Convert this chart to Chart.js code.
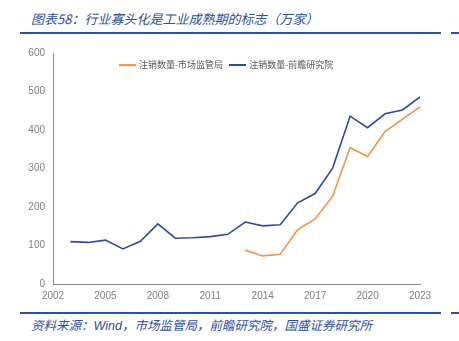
<!DOCTYPE html>
<html>
<head>
<meta charset="utf-8">
<script src="https://cdn.jsdelivr.net/npm/chart.js@4"></script>
<style>
  body { margin: 0; width: 459px; height: 341px; background: #fff; position: relative; overflow: hidden;
         font-family: "Noto Sans CJK SC", "Noto Sans", sans-serif; }
  .title { position: absolute; left: 31px; top: 9px; font-size: 13px; font-style: italic; color: #2d4f9e; white-space: nowrap; }
  .rule { position: absolute; height: 2px; background: #2a52a0; }
  .src { position: absolute; left: 31px; top: 315px; font-size: 12.5px; font-style: italic; color: #2d4f9e; white-space: nowrap; }
  .src .en { font-family: "Liberation Sans", Arial, sans-serif; }
  #wrap { position: absolute; left: 0; top: 40px; width: 459px; height: 262px; }
  .legend { position: absolute; top: 58px; left: 119px; font-size: 9px; color: #595959; white-space: nowrap; display: flex; align-items: center; }
  .legend .sw { display: inline-block; width: 17px; height: 2px; margin-right: 3px; }
  .legend .item { display: flex; align-items: center; margin-right: 6px; }
</style>
</head>
<body>
<div class="title">图表58：行业寡头化是工业成熟期的标志（万家）</div>
<div class="rule" style="left:20px; top:32px; width:421px;"></div>
<div class="rule" style="left:451px; top:32px; width:8px;"></div>
<div id="wrap"><canvas id="chart"></canvas></div>
<div class="legend">
  <span class="item"><span class="sw" style="background:#f4934a"></span>注销数量-市场监管局</span>
  <span class="item"><span class="sw" style="background:#2f4b9c"></span>注销数量-前瞻研究院</span>
</div>
<div class="rule" style="left:20px; top:312px; width:421px;"></div>
<div class="rule" style="left:451px; top:312px; width:8px;"></div>
<div class="src">资料来源：<span class="en">Wind</span>，市场监管局，前瞻研究院，国盛证券研究所</div>

<script>
// data
const years = [2003, 2004, 2005, 2006, 2007, 2008, 2009, 2010, 2011, 2012, 2013,
               2014, 2015, 2016, 2017, 2018, 2019, 2020, 2021, 2022, 2023];
const qianzhan = [110, 108, 114, 91, 111, 156, 119, 120, 123, 129, 161,
                  151, 154, 211, 235, 301, 436, 406, 442, 452, 486];
const samrYears = [2013, 2014, 2015, 2016, 2017, 2018, 2019, 2020, 2021, 2022, 2023];
const samr = [88, 73, 77, 141, 169, 228, 354, 331, 396, 428, 460];

const axisColor = '#8c8c8c';
const tickFont = { family: 'Liberation Sans, Arial, sans-serif', size: 10 };

const ctx = document.getElementById('chart').getContext('2d');
new Chart(ctx, {
    type: 'line',
    data: {
        datasets: [{
            label: '注销数量-市场监管局',
            data: samrYears.map((y, i) => ({ x: y, y: samr[i] })),
            borderColor: '#f4934a',
            borderWidth: 1.6,
            pointRadius: 0,
            tension: 0,
        }, {
            label: '注销数量-前瞻研究院',
            data: years.map((y, i) => ({ x: y, y: qianzhan[i] })),
            borderColor: '#2f4b9c',
            borderWidth: 1.6,
            pointRadius: 0,
            tension: 0,
        }]
    },
    options: {
        responsive: true,
        maintainAspectRatio: false,
        animation: false,
        layout: { padding: { top: 13, right: 39, left: 0, bottom: 0 } },
        plugins: { legend: { display: false }, tooltip: { enabled: false } },
        scales: {
            x: {
                type: 'linear',
                min: 2002,
                max: 2023,
                ticks: { stepSize: 3, color: '#7f7f7f', font: tickFont, padding: 2, maxRotation: 0,
                         callback: v => String(v) },
                grid: { display: false, drawTicks: true, tickLength: 4, tickColor: axisColor },
                border: { color: axisColor, width: 1 },
                afterFit: s => { s.height = 18; }
            },
            y: {
                min: 0,
                max: 600,
                ticks: { stepSize: 100, color: '#7f7f7f', font: tickFont, padding: 4 },
                grid: { display: false, drawTicks: true, tickLength: 4, tickColor: axisColor },
                border: { color: axisColor, width: 1 },
                afterFit: s => { s.width = 53; }
            }
        }
    }
});
</script>
</body>
</html>
